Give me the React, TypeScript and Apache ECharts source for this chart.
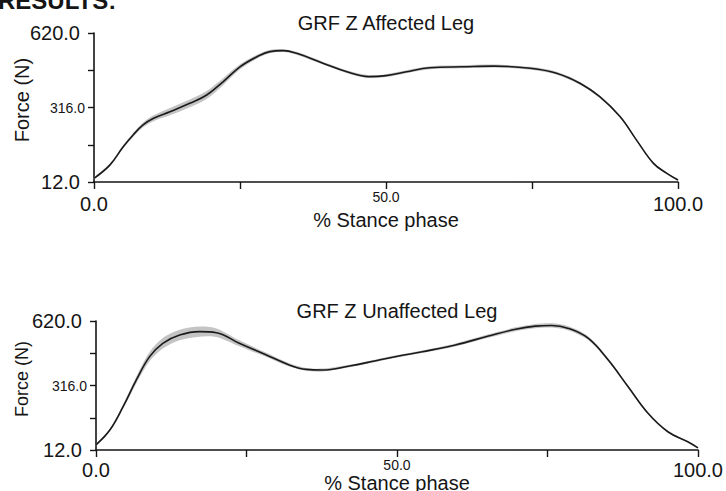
import React, { useEffect, useRef } from "react";
import * as echarts from "echarts";

// % stance phase samples and GRF Z values (N)
const affectedPct = [0, 2.7, 5, 6.7, 8.4, 10.2, 13, 16.4, 19.3, 22.1, 25, 27.9, 30.1, 32.4, 34.7, 39.3, 43.3, 47, 50, 53.5, 57.5, 63.2, 68.4, 74.7, 79.2, 83.2, 86.6, 90.1, 92.9, 95.8, 98.1, 100];
const affectedMean = [27, 81, 156, 204, 245, 272, 299, 333, 367, 421, 482, 523, 544, 548, 537, 496, 462, 442, 446, 462, 478, 482, 485, 476, 456, 415, 360, 278, 183, 88, 47, 20];
const affectedSd = [4, 5, 6, 8, 10, 12, 15, 16, 16, 14, 10, 8, 7, 6, 6, 6, 6, 6, 6, 6, 6, 6, 6, 6, 6, 6, 5, 5, 4, 4, 3, 3];

const unaffectedPct = [0, 2.3, 4.5, 6.7, 8.9, 11.1, 13.9, 17.2, 20, 23.8, 28.3, 32.1, 34.9, 37.6, 42.1, 46.5, 50.3, 54.2, 59.7, 65.2, 69.7, 73, 75.7, 78.5, 81.8, 85.1, 88.4, 91.7, 95, 98.3, 100];
const unaffectedMean = [36, 106, 216, 342, 452, 515, 554, 570, 565, 515, 460, 413, 392, 389, 408, 433, 455, 475, 507, 549, 581, 596, 599, 585, 538, 436, 310, 185, 98, 51, 22];
const unaffectedSd = [4, 6, 10, 16, 22, 25, 25, 24, 20, 14, 10, 8, 7, 7, 6, 6, 6, 6, 7, 8, 9, 10, 10, 10, 9, 7, 6, 5, 4, 3, 3];

const yTicks = [12, 164, 316, 468, 620];
const yLabels = [12, 316, 620];
const xLabels = [0, 50, 100];

const FONT = "'Liberation Sans', Arial, Helvetica, sans-serif";
const INK = "#151515";

function bandSeries(idx: number, pct: number[], mean: number[], sd: number[], name: string) {
  const bandData = pct.map((p, i) => [p, mean[i] - sd[i], mean[i] + sd[i]]);
  const line = pct.map((p, i) => [p, mean[i]]);
  return [
    {
      name: name + " band",
      type: "custom",
      xAxisIndex: idx,
      yAxisIndex: idx,
      data: bandData,
      encode: { x: 0, y: [1, 2] },
      silent: true,
      renderItem: (params: any, api: any) => {
        if (params.dataIndex !== 0) return null;
        const upper = bandData.map((d) => api.coord([d[0], d[2]]));
        const lower = bandData.map((d) => api.coord([d[0], d[1]])).reverse();
        return {
          type: "polygon",
          shape: { points: upper.concat(lower), smooth: 0.3 },
          style: { fill: "#c4c4c4", stroke: "none" },
        };
      },
    },
    {
      name,
      type: "line",
      xAxisIndex: idx,
      yAxisIndex: idx,
      data: line,
      smooth: 0.4,
      symbol: "none",
      lineStyle: { color: "#1a1a1a", width: 1.6 },
    },
  ];
}

function yAxisCfg(idx: number) {
  return {
    type: "value",
    gridIndex: idx,
    min: 12,
    max: 620,
    axisLine: { show: true, lineStyle: { color: INK, width: 1.6 } },
    axisTick: { show: true, length: 6, customValues: yTicks, lineStyle: { color: INK, width: 1.4 } },
    splitLine: { show: false },
    axisLabel: {
      customValues: yLabels,
      margin: 9,
      fontFamily: FONT,
      color: INK,
      formatter: (v: number) => (v === 316 ? `{s|${v.toFixed(1)}}` : `{b|${v.toFixed(1)}}`),
      rich: {
        b: { fontSize: 20, fontFamily: FONT, color: INK, padding: [0, 5, 0, 0] },
        s: { fontSize: 14, fontFamily: FONT, color: INK },
      },
    },
  };
}

function xAxisCfg(idx: number, bigPad: number) {
  return {
    type: "value",
    gridIndex: idx,
    min: 0,
    max: 100,
    interval: 25,
    axisLine: { show: true, onZero: false, lineStyle: { color: INK, width: 1.6 } },
    axisTick: { show: true, length: 7, lineStyle: { color: INK, width: 1.4 } },
    splitLine: { show: false },
    axisLabel: {
      customValues: xLabels,
      margin: 8,
      fontFamily: FONT,
      color: INK,
      formatter: (v: number) => (v === 50 ? `{s|${v.toFixed(1)}}` : `{b|${v.toFixed(1)}}`),
      rich: {
        b: { fontSize: 20, fontFamily: FONT, color: INK, padding: [bigPad, 0, 0, 0] },
        s: { fontSize: 14, fontFamily: FONT, color: INK },
      },
    },
  };
}

export default function App() {
  const ref = useRef<HTMLDivElement>(null);
  useEffect(() => {
    if (!ref.current) return;
    const chart = echarts.init(ref.current, undefined, { renderer: "svg" });
    chart.setOption({
      animation: false,
      backgroundColor: "#ffffff",
      grid: [
        { left: 94, top: 33, width: 584, height: 149 },
        { left: 96, top: 321, width: 604, height: 129 },
      ],
      xAxis: [xAxisCfg(0, 4), xAxisCfg(1, 2)],
      yAxis: [yAxisCfg(0), yAxisCfg(1)],
      series: [
        ...bandSeries(0, affectedPct, affectedMean, affectedSd, "GRF Z Affected Leg"),
        ...bandSeries(1, unaffectedPct, unaffectedMean, unaffectedSd, "GRF Z Unaffected Leg"),
      ],
      graphic: [
        {
          type: "text",
          x: -2,
          y: 0,
          style: { text: "RESULTS:", fontFamily: FONT, fontSize: 24, fontWeight: "bold", fill: INK, align: "left", verticalAlign: "middle" },
        },
        {
          type: "text",
          x: 386,
          y: 23,
          style: { text: "GRF Z Affected Leg", fontFamily: FONT, fontSize: 20, fill: INK, align: "center", verticalAlign: "middle" },
        },
        {
          type: "text",
          x: 397,
          y: 311,
          style: { text: "GRF Z Unaffected Leg", fontFamily: FONT, fontSize: 20, fill: INK, align: "center", verticalAlign: "middle" },
        },
        {
          type: "text",
          x: 386,
          y: 220,
          style: { text: "% Stance phase", fontFamily: FONT, fontSize: 20, fill: INK, align: "center", verticalAlign: "middle" },
        },
        {
          type: "text",
          x: 397,
          y: 483,
          style: { text: "% Stance phase", fontFamily: FONT, fontSize: 20, fill: INK, align: "center", verticalAlign: "middle" },
        },
        {
          type: "text",
          x: 22,
          y: 100,
          rotation: Math.PI / 2,
          style: { text: "Force (N)", fontFamily: FONT, fontSize: 20, fill: INK, align: "center", verticalAlign: "middle" },
        },
        {
          type: "text",
          x: 22,
          y: 379,
          rotation: Math.PI / 2,
          style: { text: "Force (N)", fontFamily: FONT, fontSize: 18, fill: INK, align: "center", verticalAlign: "middle" },
        },
      ],
    });
    return () => chart.dispose();
  }, []);
  return (
    <div
      ref={ref}
      style={{ position: "fixed", left: 0, top: 0, width: 726, height: 491, background: "#fff" }}
    />
  );
}
